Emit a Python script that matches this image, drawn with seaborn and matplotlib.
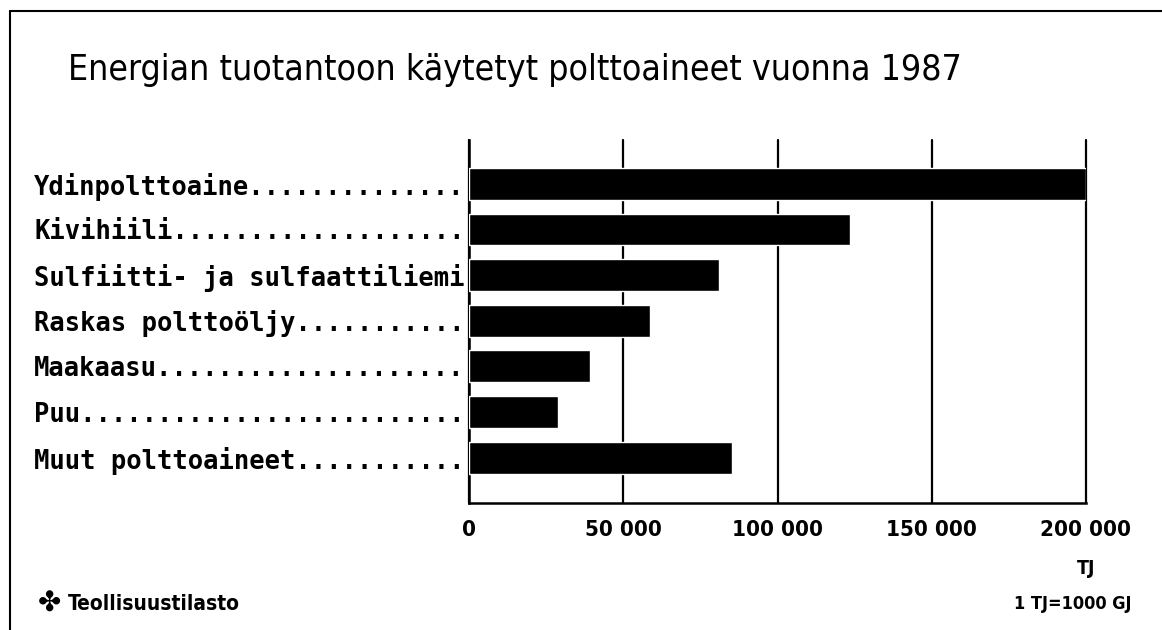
import matplotlib
matplotlib.use("Agg")
import matplotlib.pyplot as plt
import seaborn as sns
import pandas as pd
from matplotlib.lines import Line2D

categories = ["Ydinpolttoaine", "Kivihiili", "Sulfiitti- ja sulfaattiliemi",
              "Raskas polttoöljy", "Maakaasu", "Puu", "Muut polttoaineet"]
values = [200000, 123500, 81000, 58800, 39300, 28900, 85400]
tick_values = [0, 50000, 100000, 150000, 200000]
tick_labels = ["0", "50 000", "100 000", "150 000", "200 000"]
title = "Energian tuotantoon käytetyt polttoaineet vuonna 1987"
unit = "TJ"
unit_note = "1 TJ=1000 GJ"
source = "Teollisuustilasto"

sns.set_style("white")
plt.rcParams["font.family"] = ["DejaVu Sans"]
plt.rcParams["text.color"] = "black"
plt.rcParams["xtick.color"] = "black"
plt.rcParams["ytick.color"] = "black"

labels = [c.ljust(28, ".") if len(c) < 28 else c for c in categories]
df = pd.DataFrame({"label": labels, "value": values})

fig = plt.figure(figsize=(11.62, 6.30), dpi=100)
ax = fig.add_axes([469/1162, 1 - 503/630, (1086-469)/1162, (503-140)/630])

sns.barplot(data=df, x="value", y="label", orient="h", color="black",
            width=0.70, saturation=1, ax=ax, zorder=3)

ax.set_xlim(0, 200000)
ax.set_ylim(6.99, -0.96)
ax.set_xticks(tick_values)
ax.set_xticklabels(tick_labels, fontfamily="DejaVu Sans", fontstretch="condensed",
                   fontsize=16, fontweight="bold")
ax.set_xlabel("")
ax.set_ylabel("")
for t in ax.get_yticklabels():
    t.set_fontfamily("DejaVu Sans Mono")
    t.set_fontweight("bold")
    t.set_fontsize(18.4)
ax.tick_params(axis="both", length=0)
ax.tick_params(axis="x", pad=12)
ax.tick_params(axis="y", pad=3)

ax.xaxis.grid(True, color="black", linewidth=1.6, zorder=1)
ax.yaxis.grid(False)
ax.set_axisbelow(True)
for gl in ax.get_xgridlines():
    gl.set_clip_on(False)
for side in ["top", "right"]:
    ax.spines[side].set_visible(False)
for side in ["left", "bottom"]:
    ax.spines[side].set_color("black")
    ax.spines[side].set_linewidth(1.8)

fig.text(68/1162, 1 - 70/630, title, fontfamily="DejaVu Sans", fontstretch="condensed",
         fontsize=25.6, va="center", ha="left")
fig.text(1086/1162, 1 - 568/630, unit, fontfamily="DejaVu Sans", fontstretch="condensed",
         fontsize=14, fontweight="bold", va="center", ha="center")
fig.text(1132/1162, 1 - 604/630, unit_note, fontfamily="DejaVu Sans", fontstretch="condensed",
         fontsize=13, fontweight="bold", va="center", ha="right")
fig.text(68/1162, 1 - 604/630, source, fontfamily="DejaVu Sans", fontstretch="condensed",
         fontsize=15, fontweight="bold", va="center", ha="left")
fig.text(49/1162, 1 - 604/630, "✤", fontfamily="DejaVu Sans",
         fontsize=20, fontweight="bold", va="center", ha="center")

fig.add_artist(Line2D([10/1162, 1.0], [1 - 11/630, 1 - 11/630],
                      transform=fig.transFigure, color="black", lw=1.5))
fig.add_artist(Line2D([10/1162, 10/1162], [0, 1 - 11/630],
                      transform=fig.transFigure, color="black", lw=1.5))

fig.savefig("out.png", dpi=100)
